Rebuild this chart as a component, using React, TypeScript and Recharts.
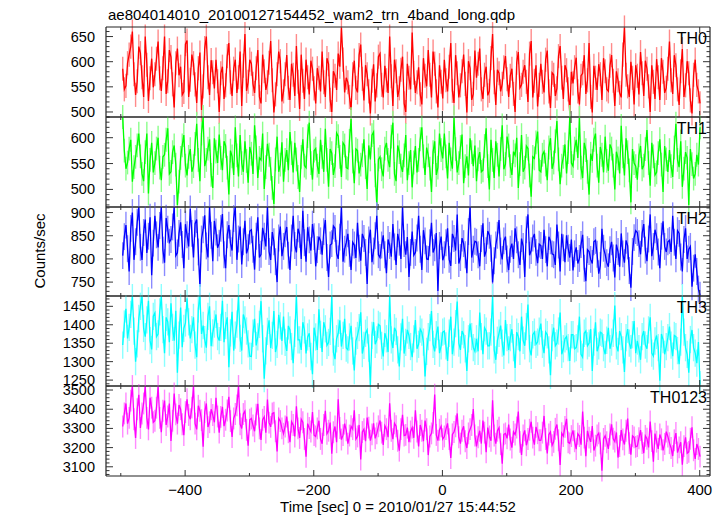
import React from 'react';
import { LineChart, Line, XAxis, YAxis, ErrorBar } from 'recharts';

const TITLE = 'ae804014010_20100127154452_wam2_trn_4band_long.qdp';
const X_TITLE = 'Time [sec] 0 = 2010/01/27 15:44:52';
const Y_TITLE = 'Counts/sec';

const TIMES = [
  -497, -494.5, -492, -489.5, -487, -484.5, -482, -479.5, -477, -474.5,
  -472, -469.5, -467, -464.5, -462, -459.5, -457, -454.5, -452, -449.5,
  -447, -444.5, -442, -439.5, -437, -434.5, -432, -429.5, -427, -424.5,
  -422, -419.5, -417, -414.5, -412, -409.5, -407, -404.5, -402, -399.5,
  -397, -394.5, -392, -389.5, -387, -384.5, -382, -379.5, -377, -374.5,
  -372, -369.5, -367, -364.5, -362, -359.5, -357, -354.5, -352, -349.5,
  -347, -344.5, -342, -339.5, -337, -334.5, -332, -329.5, -327, -324.5,
  -322, -319.5, -317, -314.5, -312, -309.5, -307, -304.5, -302, -299.5,
  -297, -294.5, -292, -289.5, -287, -284.5, -282, -279.5, -277, -274.5,
  -272, -269.5, -267, -264.5, -262, -259.5, -257, -254.5, -252, -249.5,
  -247, -244.5, -242, -239.5, -237, -234.5, -232, -229.5, -227, -224.5,
  -222, -219.5, -217, -214.5, -212, -209.5, -207, -204.5, -202, -199.5,
  -197, -194.5, -192, -189.5, -187, -184.5, -182, -179.5, -177, -174.5,
  -172, -169.5, -167, -164.5, -162, -159.5, -157, -154.5, -152, -149.5,
  -147, -144.5, -142, -139.5, -137, -134.5, -132, -129.5, -127, -124.5,
  -122, -119.5, -117, -114.5, -112, -109.5, -107, -104.5, -102, -99.5,
  -97, -94.5, -92, -89.5, -87, -84.5, -82, -79.5, -77, -74.5,
  -72, -69.5, -67, -64.5, -62, -59.5, -57, -54.5, -52, -49.5,
  -47, -44.5, -42, -39.5, -37, -34.5, -32, -29.5, -27, -24.5,
  -22, -19.5, -17, -14.5, -12, -9.5, -7, -4.5, -2, 0.5,
  3, 5.5, 8, 10.5, 13, 15.5, 18, 20.5, 23, 25.5,
  28, 30.5, 33, 35.5, 38, 40.5, 43, 45.5, 48, 50.5,
  53, 55.5, 58, 60.5, 63, 65.5, 68, 70.5, 73, 75.5,
  78, 80.5, 83, 85.5, 88, 90.5, 93, 95.5, 98, 100.5,
  103, 105.5, 108, 110.5, 113, 115.5, 118, 120.5, 123, 125.5,
  128, 130.5, 133, 135.5, 138, 140.5, 143, 145.5, 148, 150.5,
  153, 155.5, 158, 160.5, 163, 165.5, 168, 170.5, 173, 175.5,
  178, 180.5, 183, 185.5, 188, 190.5, 193, 195.5, 198, 200.5,
  203, 205.5, 208, 210.5, 213, 215.5, 218, 220.5, 223, 225.5,
  228, 230.5, 233, 235.5, 238, 240.5, 243, 245.5, 248, 250.5,
  253, 255.5, 258, 260.5, 263, 265.5, 268, 270.5, 273, 275.5,
  278, 280.5, 283, 285.5, 288, 290.5, 293, 295.5, 298, 300.5,
  303, 305.5, 308, 310.5, 313, 315.5, 318, 320.5, 323, 325.5,
  328, 330.5, 333, 335.5, 338, 340.5, 343, 345.5, 348, 350.5,
  353, 355.5, 358, 360.5, 363, 365.5, 368, 370.5, 373, 375.5,
  378, 380.5, 383, 385.5, 388, 390.5, 393, 395.5, 398, 400.5,
];

const TH0 = [
  586, 545, 552, 597, 614, 630, 660, 575, 534, 561,
  630, 617, 569, 530, 650, 594, 522, 567, 606, 549,
  575, 606, 640, 567, 542, 587, 650, 536, 561, 623,
  609, 555, 509, 597, 626, 573, 590, 534, 540, 635,
  642, 530, 564, 614, 597, 555, 518, 587, 618, 504,
  551, 627, 650, 569, 534, 603, 579, 547, 604, 561,
  500, 577, 590, 526, 553, 611, 637, 559, 532, 586,
  604, 538, 569, 620, 512, 592, 655, 542, 560, 604,
  596, 556, 538, 587, 623, 530, 517, 614, 581, 544,
  559, 598, 641, 563, 499, 535, 575, 620, 601, 521,
  541, 575, 613, 548, 524, 596, 574, 532, 631, 560,
  506, 614, 562, 526, 604, 569, 535, 602, 586, 547,
  517, 587, 568, 541, 620, 559, 530, 607, 595, 524,
  500, 581, 572, 544, 616, 590, 668, 604, 539, 568,
  559, 530, 504, 575, 602, 548, 539, 613, 634, 566,
  523, 593, 575, 541, 497, 562, 595, 521, 553, 610,
  616, 554, 529, 592, 563, 538, 650, 571, 512, 604,
  581, 530, 547, 584, 610, 517, 500, 596, 568, 545,
  658, 578, 538, 559, 589, 535, 515, 607, 572, 551,
  623, 574, 529, 620, 596, 541, 509, 593, 560, 527,
  604, 563, 541, 590, 637, 542, 518, 613, 577, 529,
  553, 581, 614, 556, 499, 601, 587, 524, 536, 622,
  568, 596, 626, 545, 526, 574, 590, 533, 542, 607,
  655, 559, 514, 584, 577, 541, 556, 589, 611, 565,
  530, 572, 586, 536, 500, 598, 619, 548, 554, 580,
  593, 560, 520, 616, 641, 529, 562, 593, 511, 554,
  596, 560, 539, 604, 622, 541, 508, 578, 574, 532,
  547, 611, 631, 568, 526, 593, 583, 545, 497, 580,
  557, 589, 608, 541, 515, 572, 577, 613, 536, 563,
  637, 530, 499, 592, 568, 544, 595, 575, 524, 607,
  581, 545, 541, 592, 613, 562, 512, 581, 563, 538,
  529, 614, 668, 574, 551, 530, 600, 568, 515, 593,
  572, 535, 619, 577, 532, 602, 586, 551, 500, 593,
  560, 526, 605, 569, 524, 607, 580, 538, 548, 586,
  640, 563, 536, 613, 593, 545, 514, 581, 625, 530,
  553, 601, 577, 523, 497, 574, 604, 554, 541, 517,
];

const TH1 = [
  640, 575, 540, 552, 579, 596, 515, 543, 563, 585,
  608, 564, 530, 516, 572, 608, 492, 557, 590, 533,
  551, 579, 600, 542, 518, 563, 567, 596, 618, 530,
  534, 572, 585, 548, 470, 515, 561, 585, 605, 546,
  527, 563, 578, 534, 545, 588, 627, 557, 516, 608,
  640, 545, 557, 579, 597, 528, 503, 599, 573, 551,
  606, 561, 537, 593, 584, 542, 490, 575, 564, 528,
  620, 566, 525, 605, 551, 534, 593, 555, 513, 582,
  569, 530, 624, 581, 522, 561, 557, 608, 501, 543,
  588, 567, 540, 503, 472, 558, 602, 534, 548, 591,
  515, 557, 576, 537, 611, 570, 533, 590, 558, 524,
  495, 563, 597, 546, 542, 603, 629, 551, 519, 575,
  579, 546, 530, 596, 563, 534, 617, 557, 505, 578,
  570, 528, 545, 609, 603, 563, 524, 590, 585, 542,
  540, 594, 636, 554, 512, 578, 575, 531, 548, 566,
  597, 543, 501, 585, 558, 605, 611, 527, 470, 558,
  563, 539, 525, 579, 590, 557, 543, 602, 629, 530,
  516, 585, 572, 546, 534, 566, 605, 518, 551, 576,
  504, 552, 584, 533, 557, 597, 620, 564, 528, 581,
  566, 540, 495, 572, 593, 528, 542, 608, 576, 560,
  608, 564, 521, 590, 558, 540, 639, 578, 533, 551,
  582, 606, 512, 545, 564, 527, 599, 572, 545, 585,
  516, 558, 572, 534, 537, 584, 618, 545, 500, 596,
  557, 522, 593, 567, 525, 578, 624, 539, 549, 602,
  585, 545, 528, 573, 566, 600, 503, 549, 605, 534,
  542, 584, 579, 527, 486, 563, 560, 591, 612, 537,
  534, 567, 573, 548, 518, 581, 599, 540, 552, 593,
  632, 558, 510, 546, 563, 587, 531, 572, 640, 551,
  545, 579, 596, 561, 638, 542, 522, 590, 576, 534,
  490, 569, 555, 596, 608, 546, 513, 582, 567, 533,
  602, 555, 536, 587, 579, 546, 500, 573, 560, 531,
  623, 564, 527, 599, 572, 537, 475, 578, 551, 545,
  519, 566, 584, 539, 546, 578, 615, 551, 507, 590,
  564, 528, 533, 570, 597, 548, 495, 584, 558, 534,
  576, 545, 524, 581, 627, 557, 543, 593, 505, 540,
  572, 561, 470, 578, 549, 521, 530, 567, 548, 620,
];

const TH2 = [
  807, 848, 873, 822, 773, 866, 900, 798, 837, 879,
  912, 825, 798, 857, 885, 813, 849, 890, 765, 834,
  893, 852, 825, 872, 912, 819, 792, 888, 864, 836,
  842, 869, 912, 807, 813, 855, 879, 831, 780, 875,
  852, 827, 908, 855, 803, 876, 885, 815, 740, 843,
  863, 894, 828, 803, 912, 851, 795, 882, 858, 824,
  834, 866, 897, 809, 780, 852, 873, 834, 818, 887,
  912, 798, 843, 870, 788, 837, 882, 812, 824, 860,
  863, 821, 777, 849, 890, 803, 810, 867, 849, 827,
  912, 816, 798, 858, 837, 794, 750, 845, 870, 806,
  827, 854, 869, 808, 776, 845, 893, 829, 814, 865,
  853, 800, 904, 835, 794, 868, 841, 818, 875, 848,
  784, 820, 848, 839, 809, 859, 884, 803, 761, 830,
  833, 871, 866, 812, 800, 847, 912, 794, 821, 835,
  854, 812, 776, 836, 830, 802, 878, 823, 796, 854,
  844, 814, 746, 841, 863, 793, 817, 850, 893, 809,
  803, 830, 851, 809, 769, 842, 829, 805, 875, 826,
  787, 854, 836, 800, 912, 833, 809, 847, 761, 814,
  859, 808, 814, 845, 893, 821, 776, 862, 839, 800,
  799, 835, 878, 814, 824, 856, 731, 829, 848, 797,
  809, 835, 866, 799, 785, 854, 844, 818, 896, 790,
  803, 845, 833, 809, 769, 859, 912, 803, 821, 838,
  836, 809, 784, 844, 877, 805, 818, 860, 851, 823,
  749, 796, 830, 851, 884, 817, 799, 839, 848, 800,
  776, 821, 833, 800, 866, 841, 809, 787, 844, 827,
  761, 863, 896, 808, 818, 845, 854, 814, 791, 832,
  829, 800, 863, 820, 784, 848, 839, 811, 809, 787,
  874, 830, 773, 854, 824, 793, 851, 823, 803, 842,
  775, 811, 825, 790, 801, 831, 852, 780, 752, 820,
  816, 799, 790, 837, 840, 810, 768, 786, 865, 823,
  810, 792, 783, 820, 837, 802, 760, 831, 816, 783,
  855, 811, 792, 840, 828, 775, 738, 816, 846, 861,
  857, 833, 810, 855, 875, 819, 795, 843, 896, 806,
  827, 863, 848, 815, 780, 849, 881, 827, 815, 837,
  840, 815, 893, 836, 800, 861, 855, 804, 773, 842,
  866, 800, 821, 827, 740, 780, 810, 773, 735, 722,
];

const TH3 = [
  1345, 1402, 1443, 1363, 1393, 1428, 1478, 1383, 1300, 1348,
  1417, 1450, 1478, 1390, 1368, 1413, 1465, 1357, 1333, 1423,
  1432, 1368, 1375, 1435, 1478, 1387, 1323, 1420, 1408, 1353,
  1458, 1393, 1357, 1438, 1270, 1372, 1447, 1339, 1390, 1405,
  1472, 1408, 1363, 1387, 1420, 1345, 1312, 1443, 1478, 1375,
  1398, 1360, 1338, 1423, 1450, 1342, 1378, 1402, 1428, 1368,
  1357, 1393, 1465, 1353, 1398, 1420, 1285, 1378, 1435, 1330,
  1372, 1402, 1478, 1363, 1330, 1428, 1413, 1383, 1348, 1315,
  1314, 1377, 1416, 1344, 1367, 1401, 1464, 1362, 1254, 1329,
  1382, 1412, 1337, 1371, 1437, 1326, 1347, 1427, 1397, 1356,
  1422, 1352, 1329, 1397, 1386, 1341, 1296, 1377, 1478, 1359,
  1359, 1332, 1407, 1386, 1322, 1367, 1377, 1314, 1266, 1392,
  1367, 1332, 1442, 1374, 1326, 1407, 1389, 1344, 1352, 1382,
  1478, 1326, 1307, 1362, 1377, 1412, 1341, 1371, 1416, 1337,
  1332, 1367, 1397, 1329, 1276, 1356, 1371, 1392, 1434, 1322,
  1344, 1377, 1386, 1337, 1237, 1371, 1407, 1347, 1359, 1401,
  1397, 1344, 1314, 1377, 1362, 1326, 1478, 1359, 1337, 1392,
  1382, 1332, 1287, 1367, 1416, 1322, 1352, 1386, 1371, 1341,
  1312, 1362, 1413, 1335, 1347, 1388, 1380, 1353, 1260, 1328,
  1368, 1392, 1437, 1347, 1328, 1373, 1395, 1323, 1343, 1380,
  1383, 1343, 1302, 1377, 1422, 1320, 1353, 1403, 1463, 1350,
  1332, 1383, 1373, 1335, 1275, 1362, 1403, 1368, 1338, 1328,
  1362, 1328, 1433, 1368, 1320, 1392, 1383, 1343, 1343, 1380,
  1478, 1332, 1305, 1358, 1377, 1398, 1350, 1317, 1413, 1365,
  1332, 1365, 1388, 1338, 1283, 1380, 1368, 1328, 1422, 1358,
  1343, 1395, 1455, 1335, 1317, 1373, 1380, 1347, 1353, 1383,
  1403, 1347, 1323, 1380, 1373, 1332, 1263, 1365, 1392, 1343,
  1350, 1383, 1433, 1320, 1335, 1362, 1368, 1338, 1302, 1373,
  1373, 1335, 1338, 1362, 1422, 1320, 1312, 1377, 1383, 1343,
  1350, 1388, 1275, 1353, 1407, 1328, 1343, 1380, 1377, 1338,
  1320, 1358, 1392, 1335, 1353, 1377, 1452, 1343, 1328, 1383,
  1368, 1332, 1272, 1365, 1388, 1350, 1335, 1373, 1410, 1323,
  1356, 1335, 1305, 1368, 1383, 1345, 1335, 1386, 1420, 1323,
  1315, 1356, 1371, 1338, 1248, 1375, 1360, 1320, 1341, 1365,
  1395, 1345, 1315, 1371, 1368, 1330, 1293, 1353, 1478, 1380,
  1338, 1320, 1270, 1360, 1386, 1338, 1323, 1296, 1353, 1238,
];

const TH0123 = [
  3310, 3378, 3430, 3325, 3355, 3445, 3521, 3348, 3250, 3400,
  3475, 3302, 3378, 3430, 3521, 3355, 3295, 3460, 3408, 3332,
  3340, 3408, 3520, 3355, 3280, 3392, 3445, 3318, 3362, 3430,
  3235, 3340, 3482, 3373, 3325, 3422, 3400, 3322, 3265, 3385,
  3452, 3370, 3348, 3408, 3521, 3325, 3295, 3418, 3392, 3343,
  3205, 3385, 3430, 3307, 3332, 3400, 3370, 3332, 3460, 3362,
  3278, 3360, 3412, 3312, 3345, 3393, 3465, 3338, 3255, 3352,
  3375, 3420, 3521, 3322, 3300, 3375, 3390, 3292, 3210, 3345,
  3352, 3315, 3285, 3372, 3428, 3300, 3240, 3345, 3360, 3278,
  3450, 3330, 3308, 3378, 3382, 3285, 3180, 3352, 3338, 3300,
  3272, 3310, 3362, 3280, 3228, 3335, 3318, 3258, 3415, 3300,
  3250, 3348, 3332, 3245, 3152, 3325, 3302, 3284, 3385, 3265,
  3258, 3300, 3340, 3245, 3220, 3318, 3392, 3272, 3288, 3330,
  3168, 3280, 3310, 3228, 3452, 3302, 3242, 3265, 3325, 3290,
  3221, 3263, 3311, 3296, 3394, 3244, 3258, 3318, 3138, 3281,
  3296, 3233, 3356, 3304, 3236, 3269, 3326, 3248, 3274, 3311,
  3341, 3278, 3214, 3314, 3296, 3254, 3431, 3288, 3244, 3326,
  3311, 3236, 3184, 3296, 3371, 3263, 3266, 3304, 3228, 3284,
  3304, 3251, 3394, 3284, 3206, 3318, 3288, 3233, 3341, 3296,
  3161, 3258, 3274, 3329, 3476, 3266, 3236, 3293, 3311, 3244,
  3258, 3296, 3326, 3244, 3146, 3269, 3281, 3311, 3378, 3254,
  3221, 3288, 3311, 3233, 3198, 3274, 3296, 3318, 3401, 3263,
  3206, 3254, 3288, 3221, 3341, 3278, 3176, 3304, 3258, 3236,
  3446, 3263, 3221, 3288, 3304, 3218, 3116, 3269, 3274, 3248,
  3320, 3242, 3200, 3282, 3268, 3305, 3388, 3230, 3162, 3263,
  3290, 3212, 3245, 3293, 3335, 3252, 3215, 3308, 3275, 3238,
  3238, 3278, 3365, 3245, 3170, 3268, 3282, 3212, 3230, 3298,
  3320, 3238, 3110, 3275, 3260, 3308, 3350, 3227, 3222, 3260,
  3290, 3233, 3192, 3272, 3260, 3215, 3388, 3252, 3155, 3287,
  3252, 3230, 3312, 3185, 3210, 3263, 3275, 3222, 3080, 3245,
  3261, 3228, 3193, 3268, 3321, 3246, 3231, 3279, 3148, 3208,
  3291, 3243, 3216, 3288, 3351, 3223, 3163, 3261, 3253, 3204,
  3208, 3249, 3291, 3223, 3171, 3261, 3246, 3201, 3336, 3234,
  3126, 3273, 3231, 3193, 3268, 3243, 3186, 3219, 3283, 3258,
  3223, 3198, 3156, 3238, 3276, 3174, 3201, 3228, 3111, 3208,
  3253, 3171, 3178, 3246, 3306, 3186, 3141, 3219, 3193, 3153,
];

// symmetric 1-sigma error
const TH0_ERR = 24;
const TH1_ERR = 23;
const TH2_ERR = 29;
const TH3_ERR = 37;
const TH0123_ERR = 57;

const TH0_TICKS = [500, 550, 600, 650];
const TH1_TICKS = [500, 550, 600];
const TH2_TICKS = [750, 800, 850, 900];
const TH3_TICKS = [1250, 1300, 1350, 1400, 1450];
const TH0123_TICKS = [3100, 3200, 3300, 3400, 3500];

const X_DOMAIN = [-523, 416];
const X_MAJOR_TICKS = [-400, -200, 0, 200, 400];
const X_MINOR_TICKS = [-500, -300, -100, 100, 300];

const FONT = '"Liberation Sans", Arial, Helvetica, sans-serif';
const FRAME = '#222';
const TICK = '#333';
const PLOT_LEFT = 106;
const PLOT_RIGHT = 710;
const CHART_W = 724;
const PAD = 12;

type Panel = {
  name: string;
  values: number[];
  err: number;
  color: string;
  errColor: string;
  domain: [number, number];
  major: number[];
  minorStep: number;
  top: number;
  height: number;
};

const PANELS: Panel[] = [
  { name: 'TH0', values: TH0, err: TH0_ERR, color: '#ff0000', errColor: '#ff8a8a', domain: [490, 669], major: TH0_TICKS, minorStep: 10, top: 27, height: 90 },
  { name: 'TH1', values: TH1, err: TH1_ERR, color: '#00ff00', errColor: '#8aff8a', domain: [466, 640], major: TH1_TICKS, minorStep: 10, top: 117, height: 90 },
  { name: 'TH2', values: TH2, err: TH2_ERR, color: '#0000ff', errColor: '#8a8aff', domain: [720, 912], major: TH2_TICKS, minorStep: 10, top: 207, height: 89 },
  { name: 'TH3', values: TH3, err: TH3_ERR, color: '#00ffff', errColor: '#8affff', domain: [1234, 1478], major: TH3_TICKS, minorStep: 10, top: 296, height: 90 },
  { name: 'TH0123', values: TH0123, err: TH0123_ERR, color: '#ff00ff', errColor: '#ff8aff', domain: [3052, 3521], major: TH0123_TICKS, minorStep: 20, top: 386, height: 90 },
];

const allTicks = (domain: [number, number], step: number) => {
  const out: number[] = [];
  for (let v = Math.ceil(domain[0] / step) * step; v <= domain[1]; v += step) out.push(v);
  return out;
};

const fmt = (v: number) => (v < 0 ? '\u2212' + Math.abs(v) : String(v));

function PanelChart({ p, last }: { p: Panel; last: boolean }) {
  const data = TIMES.map((t, i) => ({ t, v: p.values[i], e: p.err }));
  const bottomH = last ? 40 : 1;
  const plotTop = PAD;
  const plotBottom = PAD + p.height;
  const chartH = PAD + p.height + (last ? 40 : PAD);
  const yTicks = allTicks(p.domain, p.minorStep);

  const leftTick = (props: any) => {
    const { y, payload } = props;
    const isMajor = p.major.includes(payload.value);
    return (
      <g>
        <line x1={PLOT_LEFT} x2={PLOT_LEFT + (isMajor ? 7 : 3.5)} y1={y} y2={y} stroke={TICK} strokeWidth={1} />
        {isMajor && (
          <text x={PLOT_LEFT - 11} y={y + 5} textAnchor="end" fontSize={14.5} fontFamily={FONT} fill="#000">
            {payload.value}
          </text>
        )}
      </g>
    );
  };
  const rightTick = (props: any) => {
    const { y, payload } = props;
    const isMajor = p.major.includes(payload.value);
    return <line x1={PLOT_RIGHT} x2={PLOT_RIGHT - (isMajor ? 7 : 3.5)} y1={y} y2={y} stroke={TICK} strokeWidth={1} />;
  };
  const bottomTick = (props: any) => {
    const { x, payload } = props;
    const isMajor = X_MAJOR_TICKS.includes(payload.value);
    return (
      <g>
        <line x1={x} x2={x} y1={plotBottom} y2={plotBottom - (isMajor ? 6 : 3)} stroke={TICK} strokeWidth={1} />
        {last && isMajor && (
          <text x={x} y={plotBottom + 19} textAnchor="middle" fontSize={15} fontFamily={FONT} fill="#000">
            {fmt(payload.value)}
          </text>
        )}
      </g>
    );
  };
  const topTick = (props: any) => {
    const { x, payload } = props;
    const isMajor = X_MAJOR_TICKS.includes(payload.value);
    return <line x1={x} x2={x} y1={plotTop} y2={plotTop + (isMajor ? 6 : 3)} stroke={TICK} strokeWidth={1} />;
  };

  const xTicks = [...X_MINOR_TICKS, ...X_MAJOR_TICKS].sort((a, b) => a - b);

  return (
    <div style={{ position: 'absolute', left: 0, top: p.top - PAD }}>
      <LineChart
        width={CHART_W}
        height={chartH}
        data={data}
        margin={{ top: PAD - 1, right: 0, bottom: last ? 0 : PAD - 1, left: 0 }}
      >
        <XAxis
          xAxisId="b"
          type="number"
          dataKey="t"
          domain={X_DOMAIN}
          allowDataOverflow
          ticks={xTicks}
          interval={0}
          height={bottomH}
          tickSize={0}
          tickMargin={0}
          tickLine={false}
          tick={bottomTick}
          axisLine={{ stroke: FRAME, strokeWidth: 1.2 }}
        />
        <XAxis
          xAxisId="t"
          orientation="top"
          type="number"
          dataKey="t"
          domain={X_DOMAIN}
          allowDataOverflow
          ticks={xTicks}
          interval={0}
          height={1}
          tickSize={0}
          tickMargin={0}
          tickLine={false}
          tick={topTick}
          axisLine={{ stroke: FRAME, strokeWidth: 1.2 }}
        />
        <YAxis
          yAxisId="l"
          type="number"
          domain={p.domain}
          allowDataOverflow
          ticks={yTicks}
          interval={0}
          width={PLOT_LEFT}
          tickSize={0}
          tickMargin={0}
          tickLine={false}
          tick={leftTick}
          axisLine={{ stroke: FRAME, strokeWidth: 1.2 }}
        />
        <YAxis
          yAxisId="r"
          orientation="right"
          type="number"
          domain={p.domain}
          allowDataOverflow
          ticks={yTicks}
          interval={0}
          width={CHART_W - PLOT_RIGHT}
          tickSize={0}
          tickMargin={0}
          tickLine={false}
          tick={rightTick}
          axisLine={{ stroke: FRAME, strokeWidth: 1.2 }}
        />
        <Line xAxisId="b" yAxisId="l" dataKey="v" stroke="none" dot={false} activeDot={false} isAnimationActive={false}>
          <ErrorBar dataKey="e" direction="y" width={0} stroke={p.errColor} strokeWidth={1.4} isAnimationActive={false} />
        </Line>
        <Line
          xAxisId="b"
          yAxisId="l"
          dataKey="v"
          type="linear"
          stroke={p.color}
          strokeWidth={1.3}
          dot={false}
          activeDot={false}
          isAnimationActive={false}
        />
      </LineChart>
    </div>
  );
}

export default function App() {
  return (
    <div style={{ position: 'absolute', left: 0, top: 0, width: 724, height: 516, background: '#fff', overflow: 'hidden' }}>
      {PANELS.map((p, i) => (
        <PanelChart key={p.name} p={p} last={i === PANELS.length - 1} />
      ))}
      <svg width={724} height={516} style={{ position: 'absolute', left: 0, top: 0, pointerEvents: 'none' }}>
        <text x={108} y={20} fontSize={15} fontFamily={FONT} fill="#000">{TITLE}</text>
        <text x={45} y={251} fontSize={15} fontFamily={FONT} fill="#000" textAnchor="middle" transform="rotate(-90 45 251)">
          {Y_TITLE}
        </text>
        <text x={398} y={512} fontSize={15} fontFamily={FONT} fill="#000" textAnchor="middle">{X_TITLE}</text>
        {PANELS.map((p) => (
          <text key={p.name} x={707} y={p.top + 17} fontSize={16} fontFamily={FONT} fill="#000" textAnchor="end">
            {p.name}
          </text>
        ))}
      </svg>
    </div>
  );
}
